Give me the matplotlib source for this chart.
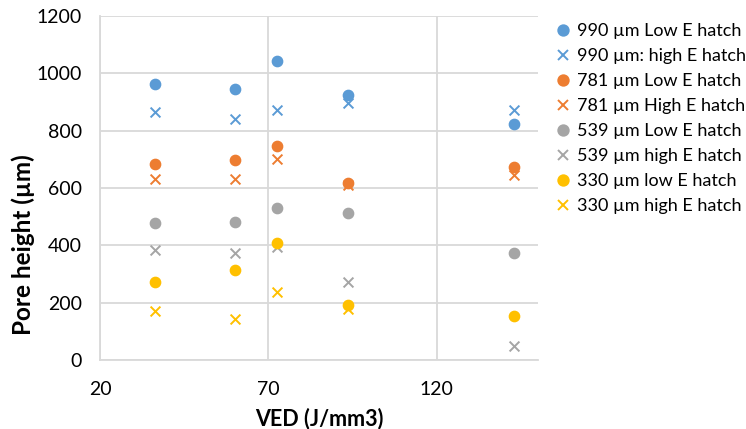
import numpy as np
import matplotlib.pyplot as plt
from matplotlib.lines import Line2D

# VED (J/mm3) positions of the five builds
ved = [36.3, 60, 72.7, 93.5, 142.8]

h990_low = [962, 944, 1043, 923, 822]
h990_high = [864, 840, 873, 895, 871]
h781_low = [684, 697, 747, 618, 674]
h781_high = [631, 631, 700, 610, 646]
h539_low = [479, 482, 531, 514, 374]
h539_high = [384, 374, 395, 273, 49]
h330_low = [272, 313, 408, 191, 153]
h330_high = [171, 143, 238, 178, np.nan]

labels = ["990 µm Low E hatch", "990 µm: high E hatch",
          "781 µm Low E hatch", "781 µm High E hatch",
          "539 µm Low E hatch", "539 µm high E hatch",
          "330 µm low E hatch", "330 µm high E hatch"]

BLUE, ORANGE, GRAY, YELLOW = "#5B9BD5", "#ED7D31", "#A5A5A5", "#FFC000"

plt.rcParams['font.family'] = ['Lato', 'DejaVu Sans']

fig = plt.figure(figsize=(7.46, 4.29), dpi=100)
ax = fig.add_axes([0.134, 0.161, 0.587, 0.802])

series = [
    (h990_low, BLUE, "o"), (h990_high, BLUE, "x"),
    (h781_low, ORANGE, "o"), (h781_high, ORANGE, "x"),
    (h539_low, GRAY, "o"), (h539_high, GRAY, "x"),
    (h330_low, YELLOW, "o"), (h330_high, YELLOW, "x"),
]

handles = []
for (vals, col, mk), lab in zip(series, labels):
    if mk == "o":
        ax.scatter(ved, vals, s=55, color=col, marker="o", zorder=3)
    else:
        ax.scatter(ved, vals, s=50, color=col, marker="x", linewidths=1.4, zorder=3)
    handles.append(Line2D([], [], linestyle="none", marker=mk, color=col,
                          markersize=7.5 if mk == "o" else 7, markeredgewidth=1.4))

ax.set_xlim(20, 150)
ax.set_ylim(0, 1200)
ax.set_xticks([20, 70, 120])
ax.set_yticks(range(0, 1201, 200))
ax.grid(True, color="#D9D9D9", linewidth=1.3)
ax.set_axisbelow(True)
for s in ["top", "right"]:
    ax.spines[s].set_visible(False)
for s in ["left", "bottom"]:
    ax.spines[s].set_color("#D9D9D9")
    ax.spines[s].set_linewidth(1.3)
ax.tick_params(length=0, labelsize=14, colors="#000000")
ax.tick_params(axis="y", pad=13)
ax.tick_params(axis="x", pad=15)

ax.set_xlabel("VED (J/mm3)", fontsize=15.5, fontweight="bold", labelpad=7)
ax.set_ylabel("Pore height (µm)", fontsize=17.5, fontweight="bold", va="center")
ax.yaxis.set_label_coords(-0.176, 0.334)

fig.legend(handles, labels, loc="upper left", bbox_to_anchor=(0.733, 0.967),
           frameon=False, fontsize=13, handlelength=0.8, handletextpad=0.35,
           labelspacing=0.5, borderpad=0)

plt.savefig("out.png", dpi=100)
